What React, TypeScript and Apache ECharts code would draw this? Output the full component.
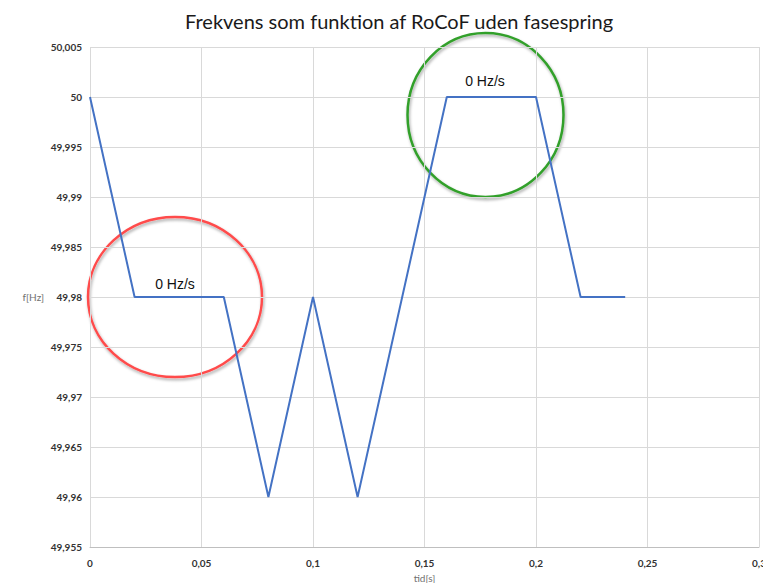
import React, { useEffect, useRef } from "react";
import * as echarts from "echarts";

const timeValues = [0, 0.02, 0.06, 0.08, 0.1, 0.12, 0.16, 0.2, 0.22, 0.24];
const freqValues = [50, 49.98, 49.98, 49.96, 49.98, 49.96, 50, 50, 49.98, 49.98];
const titleText = "Frekvens som funktion af RoCoF uden fasespring";
const annotationText = "0 Hz/s";

const fmt = (v: number) => String(Number(v.toFixed(3))).replace(".", ",");

export default function App() {
  const ref = useRef<HTMLDivElement>(null);
  useEffect(() => {
    document.body.style.margin = "0";
    document.body.style.overflow = "hidden";
    if (!ref.current) return;
    const chart = echarts.init(ref.current, undefined, { renderer: "svg" });
    const data = timeValues.map((t, i) => [t, freqValues[i]]);
    chart.setOption({
      animation: false,
      backgroundColor: "#ffffff",
      title: {
        text: titleText,
        left: 180,
        top: 6,
        textStyle: { fontFamily: "Lato", fontSize: 20, fontWeight: "normal", color: "#1a1a1a" },
      },
      grid: { left: 90, right: 4, top: 47, bottom: 36, containLabel: false, outerBoundsMode: "none" },
      xAxis: {
        type: "value",
        min: 0,
        max: 0.3,
        interval: 0.05,
        name: "tid[s]",
        nameLocation: "middle",
        nameGap: 20,
        nameTextStyle: { fontFamily: "Lato", fontSize: 10, color: "#707070", verticalAlign: "top" },
        axisLine: { show: true, lineStyle: { color: "#bfbfbf", width: 1 } },
        axisTick: { show: false },
        axisLabel: {
          formatter: fmt,
          margin: 11,
          fontFamily: "Lato",
          fontSize: 10,
          fontWeight: "bold",
          color: "#333",
        },
        splitLine: { show: true, lineStyle: { color: "#d9d9d9", width: 1 } },
      },
      yAxis: {
        type: "value",
        min: 49.955,
        max: 50.005,
        interval: 0.005,
        name: "f[Hz]",
        nameLocation: "middle",
        nameRotate: 0,
        nameGap: 46,
        nameTextStyle: { fontFamily: "Lato", fontSize: 10, color: "#707070" },
        axisLine: { show: false },
        axisTick: { show: false },
        axisLabel: {
          formatter: fmt,
          margin: 8,
          fontFamily: "Lato",
          fontSize: 10,
          fontWeight: "bold",
          color: "#333",
        },
        splitLine: { show: true, lineStyle: { color: "#d9d9d9", width: 1 } },
      },
      series: [
        {
          type: "line",
          data,
          symbol: "none",
          lineStyle: { color: "#4472c4", width: 2 },
        },
      ],
      graphic: [
        {
          type: "ellipse",
          shape: { cx: 175, cy: 297, rx: 87, ry: 80 },
          style: {
            fill: "none",
            stroke: "#ff4b4b",
            lineWidth: 2.5,
            shadowBlur: 3,
            shadowColor: "rgba(0,0,0,0.35)",
            shadowOffsetX: 1,
            shadowOffsetY: 2,
          },
        },
        {
          type: "ellipse",
          shape: { cx: 485.5, cy: 115, rx: 78, ry: 82 },
          style: {
            fill: "none",
            stroke: "#33a02c",
            lineWidth: 2.5,
            shadowBlur: 3,
            shadowColor: "rgba(0,0,0,0.35)",
            shadowOffsetX: 1,
            shadowOffsetY: 2,
          },
        },
        {
          type: "text",
          x: 175,
          y: 284,
          style: {
            text: annotationText,
            fontFamily: "Liberation Sans",
            fontSize: 14,
            fill: "#111",
            textAlign: "center",
            textVerticalAlign: "middle",
          },
        },
        {
          type: "text",
          x: 485,
          y: 81,
          style: {
            text: annotationText,
            fontFamily: "Liberation Sans",
            fontSize: 14,
            fill: "#111",
            textAlign: "center",
            textVerticalAlign: "middle",
          },
        },
      ],
    });
    return () => chart.dispose();
  }, []);
  return (
    <div
      ref={ref}
      style={{ position: "fixed", left: 0, top: 0, width: 763, height: 583 }}
    />
  );
}
